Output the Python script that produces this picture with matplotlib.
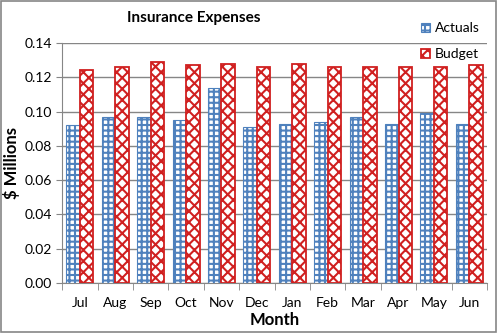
import matplotlib.pyplot as plt
import numpy as np

plt.rcParams['font.family'] = ['Lato', 'DejaVu Sans']
plt.rcParams['hatch.linewidth'] = 1.5

months = ['Jul', 'Aug', 'Sep', 'Oct', 'Nov', 'Dec', 'Jan', 'Feb', 'Mar', 'Apr', 'May', 'Jun']
actuals = [0.092, 0.097, 0.097, 0.095, 0.114, 0.091, 0.093, 0.094, 0.097, 0.093, 0.099, 0.093]
budget = [0.124, 0.126, 0.129, 0.127, 0.128, 0.126, 0.128, 0.126, 0.126, 0.126, 0.126, 0.127]

x = np.arange(len(months))
width = 0.38

fig = plt.figure(figsize=(4.97, 3.33), dpi=100)
ax = fig.add_axes([0.125, 0.150, 0.855, 0.721])

ax.bar(x - width / 2, actuals, width, label='Actuals', color='white',
       edgecolor='#4F81BD', hatch='+++', linewidth=0.8, zorder=3)
ax.bar(x + width / 2, budget, width, label='Budget', color='white',
       edgecolor='#D02020', hatch='xxx', linewidth=1.3, zorder=3)

ax.set_xlim(-0.5, len(months) - 0.5)
ax.set_ylim(0, 0.14)
ax.set_yticks(np.arange(0, 0.141, 0.02))
ax.set_yticklabels(['%.2f' % v for v in np.arange(0, 0.141, 0.02)], fontsize=10)
ax.set_xticks(x)
ax.set_xticklabels(months, fontsize=10)
ax.tick_params(axis='x', length=0, pad=10)
ax.set_xticks(np.arange(-0.5, len(months), 1), minor=True)
ax.tick_params(axis='x', which='minor', length=5, color='#868686')
ax.tick_params(axis='y', length=4, color='#868686')
ax.grid(axis='y', color='#868686', linewidth=1, zorder=0)
for s in ['top', 'right']:
    ax.spines[s].set_visible(False)
for s in ['left', 'bottom']:
    ax.spines[s].set_color('#868686')

ax.set_xlabel('Month', fontsize=12, fontweight='bold', labelpad=2)
ax.set_ylabel('$ Millions', fontsize=12, fontweight='bold', labelpad=3)
fig.text(0.39, 0.935, 'Insurance Expenses', fontsize=11, fontweight='bold', ha='center')

fig.legend(loc='upper right', bbox_to_anchor=(0.99, 0.97), frameon=False, fontsize=10,
           handlelength=0.7, handleheight=0.7, handletextpad=0.3, labelspacing=1.0)

fig.patches.append(plt.Rectangle((0.002, 0.003), 0.995, 0.994, transform=fig.transFigure,
                                 fill=False, edgecolor='#868686', linewidth=1.2))

fig.savefig('out.png', dpi=100)
